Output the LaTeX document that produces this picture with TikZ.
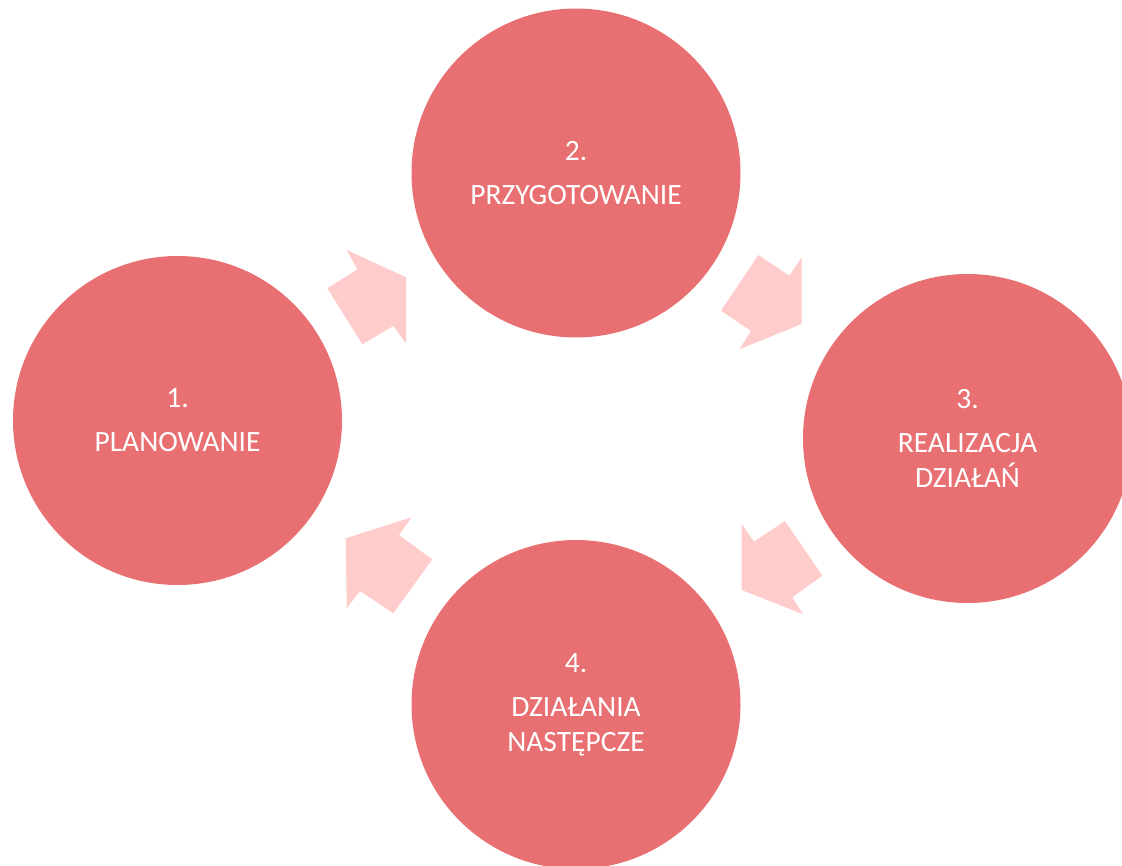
\documentclass[tikz,border=0pt]{standalone}
\usepackage{fontspec}
\setmainfont{Carlito}
\usepackage{tikz}
\definecolor{stagered}{RGB}{233,112,114}
\definecolor{arrowpink}{RGB}{255,204,204}

\begin{document}
\begin{tikzpicture}
[x=1pt,y=-1pt,
  stagedecorate/.style={shape=circle,fill=stagered,minimum size=329pt,inner sep=0pt,
    text=white,align=center,font=\fontsize{29.5}{35}\selectfont},%
  arrowdecorate/.style={fill=arrowpink,draw=none}]
\useasboundingbox (0,0) rectangle (1122,866);
\clip (0,0) rectangle (1122,866);
%% stages
\foreach \nodename/\x/\y/\caption in {plan/177.5/420.5/{1.\\[9pt]PLANOWANIE},
  prep/576/173/{2.\\[9pt]PRZYGOTOWANIE},
  real/967.5/438.5/{3.\\[9pt]REALIZACJA\\DZIAŁAŃ},
  next/576/704.5/{4.\\[9pt]DZIAŁANIA\\NASTĘPCZE}}
{
  \node (\nodename) at (\x,\y) [stagedecorate] {\caption};
}
%% block arrows between the stages
\fill[arrowdecorate] (346.7,250) -- (406,277.3) -- (406,343.3) -- (393.3,326)
  -- (362.3,344.3) -- (327.3,288.3) -- (357.3,269.3) -- cycle;
\fill[arrowdecorate] (758.3,255) -- (789.3,275.7) -- (801.7,257.3) -- (801.7,324)
  -- (739.3,349.3) -- (751,331) -- (721,310.7) -- cycle;
\fill[arrowdecorate] (741.7,524) -- (754,541.7) -- (785,521) -- (822.3,575.7)
  -- (792.3,597.3) -- (803.3,614.3) -- (741.7,590) -- cycle;
\fill[arrowdecorate] (411.7,517.3) -- (399,535) -- (432.3,559.3) -- (393.3,613.3)
  -- (360,591) -- (346.7,608.3) -- (345.7,538.3) -- cycle;
\end{tikzpicture}
\end{document}
